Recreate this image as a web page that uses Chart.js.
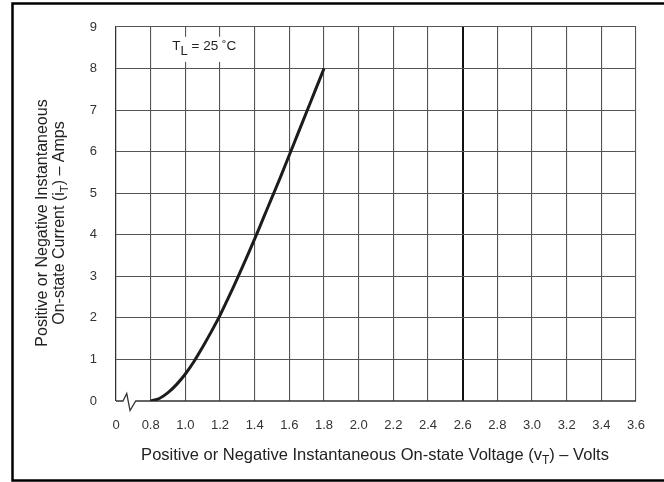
<!DOCTYPE html>
<html>
<head>
<meta charset="utf-8">
<script src="https://cdn.jsdelivr.net/npm/chart.js@4"></script>
<style>
html,body{margin:0;padding:0;background:#fff;}
canvas{display:block;}
</style>
</head>
<body>
<canvas id="c" width="664" height="482"></canvas>
<script>
// ---- data ----
const voltage = [0.80, 0.85, 0.90, 0.95, 1.00, 1.05, 1.10, 1.15, 1.20, 1.25, 1.30, 1.35, 1.40, 1.45, 1.50, 1.55, 1.60, 1.65, 1.70, 1.75, 1.80];
const current = [0.00, 0.06, 0.20, 0.40, 0.65, 0.95, 1.30, 1.67, 2.06, 2.50, 2.95, 3.42, 3.90, 4.40, 4.90, 5.40, 5.92, 6.44, 6.96, 7.48, 8.00];
const breakX = [0.60, 0.640, 0.662, 0.681, 0.714, 3.60];
const breakY = [0, 0, 0.18, -0.23, 0, 0];
const xTickValues = [0.6, 0.8, 1.0, 1.2, 1.4, 1.6, 1.8, 2.0, 2.2, 2.4, 2.6, 2.8, 3.0, 3.2, 3.4, 3.6];
const xTickLabels = ['0', '0.8', '1.0', '1.2', '1.4', '1.6', '1.8', '2.0', '2.2', '2.4', '2.6', '2.8', '3.0', '3.2', '3.4', '3.6'];
const yTickValues = [0, 1, 2, 3, 4, 5, 6, 7, 8, 9];
const yTickLabels = ['0', '1', '2', '3', '4', '5', '6', '7', '8', '9'];
const annotationMain = 'T';
const annotationSub = 'L';
const annotationRest = ' = 25 \u02DAC';

const FONT = '"Liberation Sans", Arial, Helvetica, sans-serif';

function drawRich(ctx, parts, size, subSize, subDrop) {
  let x = 0;
  parts.forEach(p => {
    ctx.font = (p.sub ? subSize : size) + 'px ' + FONT;
    ctx.fillText(p.t, x, p.sub ? subDrop : 0);
    x += ctx.measureText(p.t).width;
  });
  return x;
}
function richWidth(ctx, parts, size, subSize) {
  let w = 0;
  parts.forEach(p => {
    ctx.font = (p.sub ? subSize : size) + 'px ' + FONT;
    w += ctx.measureText(p.t).width;
  });
  return w;
}

const decor = {
  id: 'decor',
  beforeDraw(chart) {
    const ctx = chart.ctx;
    ctx.save();
    ctx.fillStyle = '#fff';
    ctx.fillRect(0, 0, chart.width, chart.height);
    ctx.restore();
  },
  afterDraw(chart) {
    const ctx = chart.ctx;
    const xs = chart.scales.x, ys = chart.scales.y;
    ctx.save();
    // outer frame
    ctx.strokeStyle = '#000';
    ctx.lineWidth = 2.5;
    ctx.strokeRect(12.5, 3.5, 700, 477);

    ctx.fillStyle = '#222';
    ctx.textBaseline = 'alphabetic';
    // x title
    const xParts = [{t: 'Positive or Negative Instantaneous On-state Voltage (v'}, {t: 'T', sub: true}, {t: ') \u2013 Volts'}];
    const xw = richWidth(ctx, xParts, 16.5, 12);
    ctx.save();
    ctx.translate(375 - xw / 2, 459.5);
    drawRich(ctx, xParts, 16.5, 12, 4);
    ctx.restore();

    // y title (two lines, rotated)
    const l1 = [{t: 'Positive or Negative Instantaneous'}];
    const l2 = [{t: 'On-state Current (i'}, {t: 'T', sub: true}, {t: ') \u2013 Amps'}];
    const cy = 223;
    ctx.save();
    ctx.translate(46.5, cy);
    ctx.rotate(-Math.PI / 2);
    const w1 = richWidth(ctx, l1, 16, 11.5);
    ctx.translate(-w1 / 2, 0);
    drawRich(ctx, l1, 16, 11.5, 4);
    ctx.restore();
    ctx.save();
    ctx.translate(63.5, cy);
    ctx.rotate(-Math.PI / 2);
    const w2 = richWidth(ctx, l2, 16, 11.5);
    ctx.translate(-w2 / 2, 0);
    drawRich(ctx, l2, 16, 11.5, 4);
    ctx.restore();

    // annotation with white box
    const ax = xs.getPixelForValue(0.925);
    const ay = ys.getPixelForValue(8.45);
    const aParts = [{t: annotationMain}, {t: annotationSub, sub: true}, {t: annotationRest}];
    const aw = richWidth(ctx, aParts, 13.5, 13);
    ctx.fillStyle = '#fff';
    ctx.fillRect(ax - 11, ay - 13, aw + 20, 25);
    ctx.fillStyle = '#222';
    ctx.save();
    ctx.translate(ax, ay);
    drawRich(ctx, aParts, 13.5, 13, 5);
    ctx.restore();
    ctx.restore();
  }
};

new Chart(document.getElementById('c'), {
  type: 'line',
  data: {
    datasets: [
      {
        data: voltage.map((v, i) => ({x: v, y: current[i]})),
        borderColor: '#1c1c1c',
        borderWidth: 3,
        pointRadius: 0,
        fill: false,
        tension: 0.3
      },
      {
        data: breakX.map((v, i) => ({x: v, y: breakY[i]})),
        borderColor: '#333',
        borderWidth: 1.3,
        pointRadius: 0,
        fill: false,
        tension: 0,
        clip: false
      }
    ]
  },
  options: {
    responsive: false,
    animation: false,
    devicePixelRatio: 1,
    layout: {padding: {left: 12, right: 28, top: 27, bottom: 0}},
    plugins: {legend: {display: false}, tooltip: {enabled: false}},
    scales: {
      x: {
        type: 'linear',
        min: 0.6,
        max: 3.6,
        afterBuildTicks: s => { s.ticks = xTickValues.map(v => ({value: v})); },
        afterFit: s => { s.height = 81; },
        ticks: {
          callback: (v, i) => xTickLabels[i],
          padding: 17,
          color: '#333',
          maxRotation: 0,
          autoSkip: false,
          font: {family: FONT, size: 13}
        },
        grid: {
          drawTicks: false,
          color: c => (c.tick && Math.abs(c.tick.value - 2.6) < 1e-6) ? '#111' : '#555',
          lineWidth: c => (c.tick && Math.abs(c.tick.value - 2.6) < 1e-6) ? 2 : 1.1
        },
        border: {display: false}
      },
      y: {
        type: 'linear',
        min: 0,
        max: 9,
        afterBuildTicks: s => { s.ticks = yTickValues.map(v => ({value: v})); },
        afterFit: s => { s.width = 104; },
        ticks: {
          callback: (v, i) => yTickLabels[i],
          padding: 19,
          color: '#333',
          font: {family: FONT, size: 13}
        },
        grid: {
          drawTicks: false,
          color: c => (c.tick && c.tick.value === 0) ? 'rgba(0,0,0,0)' : '#555',
          lineWidth: 1.1
        },
        border: {display: true, color: '#333', width: 1.2}
      }
    }
  },
  plugins: [decor]
});
</script>
</body>
</html>
